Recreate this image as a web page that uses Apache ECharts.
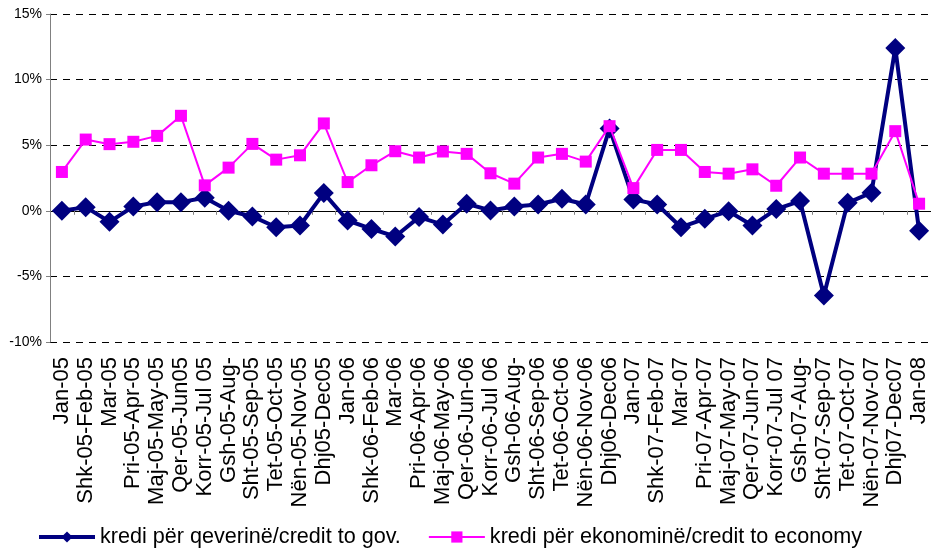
<!DOCTYPE html>
<html>
<head>
<meta charset="utf-8">
<script src="https://cdn.jsdelivr.net/npm/echarts@6/dist/echarts.min.js"></script>
<style>html,body{margin:0;padding:0;background:#fff}#c{width:931px;height:550px}</style>
</head>
<body>
<div id="c"></div>
<script>
const categories = ["Jan-05","Shk-05-Feb-05","Mar-05","Pri-05-Apr-05","Maj-05-May-05","Qer-05-Jun05","Korr-05-Jul 05","Gsh-05-Aug-","Sht-05-Sep-05","Tet-05-Oct-05","Nën-05-Nov-05","Dhj05-Dec05","Jan-06","Shk-06-Feb-06","Mar-06","Pri-06-Apr-06","Maj-06-May-06","Qer-06-Jun-06","Korr-06-Jul 06","Gsh-06-Aug-","Sht-06-Sep-06","Tet-06-Oct-06","Nën-06-Nov-06","Dhj06-Dec06","Jan-07","Shk-07-Feb-07","Mar-07","Pri-07-Apr-07","Maj-07-May-07","Qer-07-Jun-07","Korr-07-Jul 07","Gsh-07-Aug-","Sht-07-Sep-07","Tet-07-Oct-07","Nën-07-Nov-07","Dhj07-Dec07","Jan-08"];
const creditGov = [0.0,0.28,-0.84,0.33,0.66,0.66,1.0,0.0,-0.43,-1.25,-1.12,1.35,-0.74,-1.38,-1.96,-0.48,-1.05,0.54,0.03,0.33,0.48,0.92,0.48,6.28,0.87,0.48,-1.25,-0.61,-0.03,-1.12,0.13,0.74,-6.45,0.61,1.38,12.4,-1.53];
const creditEconomy = [2.96,5.43,5.08,5.26,5.71,7.24,1.94,3.29,5.1,3.9,4.23,6.66,2.19,3.47,4.54,4.06,4.52,4.34,2.86,2.07,4.06,4.34,3.75,6.45,1.73,4.64,4.64,2.96,2.83,3.16,1.91,4.06,2.83,2.83,2.83,6.07,0.54];
const seriesNames = ["kredi për qeverinë/credit to gov.","kredi për ekonominë/credit to economy"];
const yTicks = {min:-10, max:15, interval:5};

const font = "'Liberation Sans', Arial, sans-serif";
const chart = echarts.init(document.getElementById('c'), null, {renderer:'canvas'});
chart.setOption({
  animation:false,
  backgroundColor:'#fff',
  grid:{left:50, right:-1, top:14, bottom:208, containLabel:false},
  legend:{
    left:37, top:526, padding:0, itemWidth:56, itemHeight:14, itemGap:27,
    textStyle:{fontFamily:font, fontSize:21.6, color:'#000'},
    data:[
      {name:seriesNames[0], lineStyle:{width:4, color:'#000080'}},
      {name:seriesNames[1], lineStyle:{width:2, color:'#FF00FF'}}
    ]
  },
  xAxis:[
    {type:'category', data:categories, boundaryGap:true, position:'bottom',
     axisLine:{show:false, onZero:false}, axisTick:{show:false},
     axisLabel:{rotate:90, interval:0, margin:15, fontFamily:font, fontSize:22, color:'#000'},
     splitLine:{show:false}},
    {type:'category', data:categories, boundaryGap:true, position:'bottom',
     axisLine:{show:true, onZero:true, lineStyle:{color:'#000', width:1}},
     axisTick:{show:true, interval:0, length:4, lineStyle:{color:'#808080'}},
     axisLabel:{show:false}, splitLine:{show:false}}
  ],
  yAxis:{
    type:'value', min:yTicks.min, max:yTicks.max, interval:yTicks.interval,
    axisLine:{show:true, lineStyle:{color:'#808080'}},
    axisTick:{show:true, length:4, lineStyle:{color:'#808080'}},
    axisLabel:{formatter:'{value}%', margin:8, fontFamily:font, fontSize:14, color:'#000'},
    splitLine:{show:true, lineStyle:{color:'#000', width:1, type:[7,6]}}
  },
  series:[
    {name:seriesNames[0], type:'line', xAxisIndex:0, data:creditGov,
     symbol:'diamond', symbolSize:20, showAllSymbol:true,
     lineStyle:{color:'#000080', width:4}, itemStyle:{color:'#000080'}, z:2},
    {name:seriesNames[1], type:'line', xAxisIndex:0, data:creditEconomy,
     symbol:'rect', symbolSize:12, showAllSymbol:true,
     lineStyle:{color:'#FF00FF', width:2}, itemStyle:{color:'#FF00FF'}, z:3}
  ]
});
</script>
</body>
</html>
